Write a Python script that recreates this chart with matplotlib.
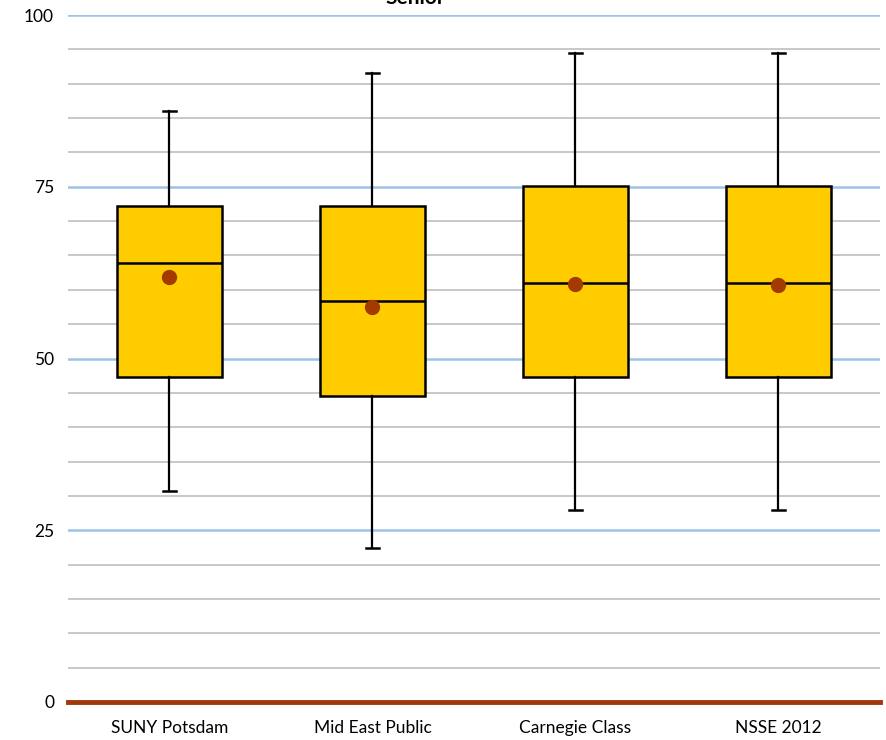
import matplotlib
matplotlib.use("Agg")
import matplotlib.pyplot as plt

plt.rcParams['font.family'] = ['Lato', 'DejaVu Sans']

categories = ["SUNY Potsdam", "Mid East Public", "Carnegie Class", "NSSE 2012"]
whisker_low = [30.7, 22.4, 27.9, 27.9]
q1 = [47.3, 44.5, 47.3, 47.3]
median = [63.9, 58.3, 61.0, 61.0]
q3 = [72.2, 72.2, 75.1, 75.1]
whisker_high = [86.0, 91.6, 94.5, 94.5]
mean = [61.9, 57.5, 60.8, 60.7]

stats = []
for i, name in enumerate(categories):
    stats.append({
        "label": name,
        "whislo": whisker_low[i],
        "q1": q1[i],
        "med": median[i],
        "q3": q3[i],
        "whishi": whisker_high[i],
        "mean": mean[i],
    })

fig = plt.figure(figsize=(8.87, 7.40), dpi=100)
ax = fig.add_axes([68 / 887, 1 - 702 / 740, (880 - 68) / 887, (702 - 15) / 740])

positions = list(range(len(categories)))
ax.bxp(stats, positions=positions, widths=0.52, patch_artist=True,
       showmeans=True, showfliers=False,
       boxprops=dict(facecolor="#FFCC00", edgecolor="black", linewidth=1.8),
       medianprops=dict(color="black", linewidth=1.8),
       whiskerprops=dict(color="black", linewidth=1.6),
       capprops=dict(color="black", linewidth=1.8),
       capwidths=0.06,
       meanprops=dict(marker="o", markerfacecolor="#A33A00", markeredgecolor="#A33A00",
                      markersize=10),
       zorder=3)

ax.set_xlim(-0.5, 3.5)
ax.set_ylim(0, 100)
ax.set_yticks([0, 25, 50, 75, 100])
ax.set_yticks(range(0, 101, 5), minor=True)
ax.grid(axis="y", which="minor", color="#BFBFBF", linewidth=1.2, zorder=0)
ax.grid(axis="y", which="major", color="#9DC3E6", linewidth=1.8, zorder=0)
ax.axhline(0, color="#A0380A", linewidth=3.5, zorder=4, clip_on=False)

for s in ax.spines.values():
    s.set_visible(False)
ax.tick_params(axis="both", which="both", length=0, labelsize=12.5)
ax.tick_params(axis="y", pad=10)
ax.tick_params(axis="x", pad=13)
ax.set_xticks(positions)
ax.set_xticklabels(categories)

# title sits mostly above the visible area, as in the original export
fig.text(415 / 887, 1 - 4 / 740, "Senior", ha="center", va="baseline",
         fontsize=15, fontweight="bold")

fig.savefig("out.png", dpi=100)
